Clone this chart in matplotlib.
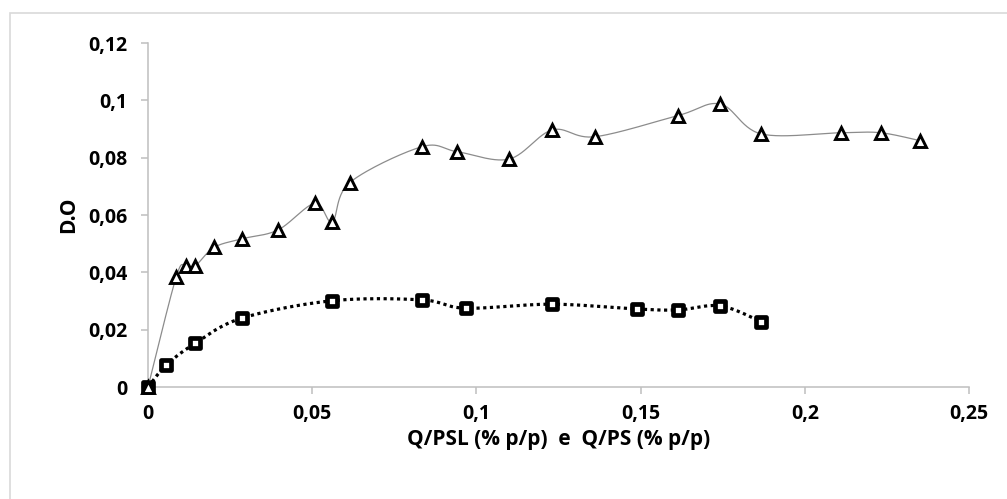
import matplotlib
matplotlib.use("Agg")
import matplotlib.pyplot as plt
import numpy as np
from matplotlib.markers import MarkerStyle
from matplotlib.patches import Rectangle
from matplotlib.ticker import FuncFormatter, MultipleLocator

# Q/PSL series (triangles)
x_psl = [0, 0.0086, 0.0115, 0.0144, 0.0201, 0.0286, 0.0396, 0.0508, 0.0561, 0.0614,
         0.0833, 0.0941, 0.1099, 0.1231, 0.1360, 0.1614, 0.1743, 0.1867, 0.2110,
         0.2231, 0.2352]
y_psl = [0, 0.0385, 0.0422, 0.0423, 0.0487, 0.0517, 0.0548, 0.0641, 0.0577, 0.0713,
         0.0838, 0.0821, 0.0795, 0.0897, 0.0873, 0.0947, 0.0987, 0.0883, 0.0887,
         0.0887, 0.0859]

# Q/PS series (squares)
x_ps = [0, 0.0056, 0.0143, 0.0285, 0.0561, 0.0834, 0.0967, 0.1231, 0.1489, 0.1614,
        0.1743, 0.1867]
y_ps = [0, 0.0077, 0.0152, 0.0240, 0.0301, 0.0304, 0.0275, 0.0289, 0.0272, 0.0269,
        0.0283, 0.0228]

xlabel = "Q/PSL (% p/p)  e  Q/PS (% p/p)"
ylabel = "D.O"


def smooth(xs, ys, n=30):
    # curva suavizada tipo Excel (Catmull-Rom -> Bezier)
    p = np.column_stack([xs, ys]).astype(float)
    p = np.vstack([p[0], p, p[-1]])
    out = []
    t = np.linspace(0, 1, n)[:, None]
    for i in range(1, len(p) - 2):
        p0, p1, p2, p3 = p[i - 1], p[i], p[i + 1], p[i + 2]
        c1 = p1 + (p2 - p0) / 6
        c2 = p2 - (p3 - p1) / 6
        seg = ((1 - t) ** 3) * p1 + 3 * ((1 - t) ** 2) * t * c1 + 3 * (1 - t) * t ** 2 * c2 + t ** 3 * p2
        out.append(seg)
    out = np.vstack(out)
    return out[:, 0], out[:, 1]


plt.rcParams['font.family'] = ['Open Sans', 'DejaVu Sans']
plt.rcParams['font.weight'] = 'bold'

fig = plt.figure(figsize=(10.07, 4.99), dpi=100)
fig.patches.append(Rectangle((9.5 / 1007, -0.2), 1.2, 1.2 - 13 / 499, transform=fig.transFigure,
                             fill=False, edgecolor='#d9d9d9', lw=1.2))
ax = fig.add_axes([0.147, 0.2244, 0.8153, 0.6894])

sx, sy = smooth(x_ps, y_ps)
ax.plot(sx, sy, color='black', lw=2.3, linestyle=(0, (1, 1.1)), dash_capstyle='butt', clip_on=False, zorder=2)
ax.plot(x_ps, y_ps, linestyle='none', marker=MarkerStyle('s', joinstyle='round'), ms=6.6,
        mfc='white', mec='black', mew=3.4, clip_on=False, zorder=3)

tx, ty = smooth(x_psl, y_psl)
ax.plot(tx, ty, color='#8c8c8c', lw=0.9, clip_on=False, zorder=4)
ax.plot(x_psl, y_psl, linestyle='none', marker=MarkerStyle('^', joinstyle='miter'), ms=8.5,
        mfc='white', mec='black', mew=2.1, clip_on=False, zorder=5)

ax.set_xlim(0, 0.25)
ax.set_ylim(0, 0.12)
ax.xaxis.set_major_locator(MultipleLocator(0.05))
ax.yaxis.set_major_locator(MultipleLocator(0.02))
fmt = FuncFormatter(lambda v, pos: f"{round(v, 4):g}".replace('.', ','))
ax.xaxis.set_major_formatter(fmt)
ax.yaxis.set_major_formatter(fmt)
for lab in ax.get_xticklabels() + ax.get_yticklabels():
    lab.set_fontweight('bold')

for s in ['top', 'right']:
    ax.spines[s].set_visible(False)
for s in ['left', 'bottom']:
    ax.spines[s].set_color('#bfbfbf')
    ax.spines[s].set_linewidth(1.1)
ax.tick_params(axis='both', direction='out', length=5, width=1.1, color='#bfbfbf',
               labelsize=14, labelcolor='black')
ax.tick_params(axis='y', pad=10)
ax.tick_params(axis='x', pad=7)

ax.set_xlabel(xlabel, fontsize=15, fontweight='bold', labelpad=4)
ax.set_ylabel(ylabel, fontsize=15, fontweight='bold', labelpad=6)

fig.savefig("out.png", dpi=100)
